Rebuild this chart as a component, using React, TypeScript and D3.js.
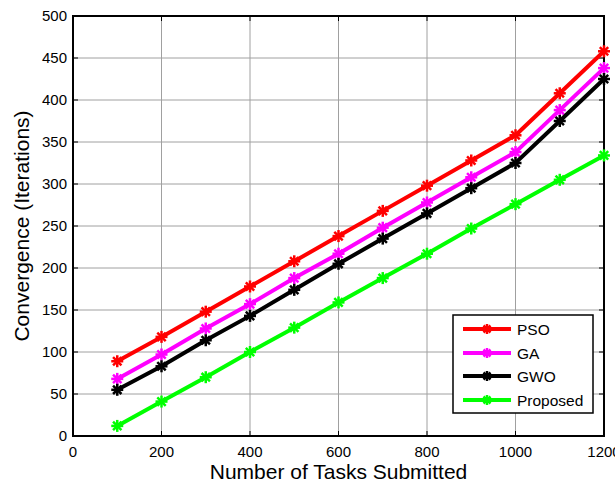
import React, { useEffect, useRef } from 'react';
import * as d3 from 'd3';

const tasks = [100, 200, 300, 400, 500, 600, 700, 800, 900, 1000, 1100, 1200];
const pso = [89, 118, 148, 178, 208, 238, 268, 298, 328, 358, 408, 458];
const ga = [68, 97, 128, 157, 188, 217, 248, 278, 308, 338, 388, 438];
const gwo = [55, 83, 114, 143, 174, 205, 235, 265, 295, 325, 375, 425];
const proposed = [12, 41, 70, 100, 129, 159, 188, 217, 247, 276, 305, 334];

const seriesNames = ['PSO', 'GA', 'GWO', 'Proposed'];
const seriesColors = ['#ff0000', '#ff00ff', '#000000', '#00ff00'];
const xTicks = [0, 200, 400, 600, 800, 1000, 1200];
const yTicks = [0, 50, 100, 150, 200, 250, 300, 350, 400, 450, 500];

const W = 615;
const H = 484;
const m = { left: 73, right: 11, top: 16, bottom: 48 };

const App = () => {
  const ref = useRef<SVGSVGElement>(null);

  useEffect(() => {
    const svg = d3.select(ref.current);
    svg.selectAll('*').remove();

    const x = d3.scaleLinear().domain([0, 1200]).range([m.left, W - m.right]);
    const y = d3.scaleLinear().domain([0, 500]).range([H - m.bottom, m.top]);
    const font = 'Liberation Sans, Arial, sans-serif';

    // grid
    const g = svg.append('g');
    g.selectAll('.gx').data(xTicks).enter().append('line')
      .attr('x1', d => x(d)).attr('x2', d => x(d))
      .attr('y1', y(0)).attr('y2', y(500))
      .attr('stroke', '#a0a0a0').attr('stroke-width', 1);
    g.selectAll('.gy').data(yTicks).enter().append('line')
      .attr('x1', x(0)).attr('x2', x(1200))
      .attr('y1', d => y(d)).attr('y2', d => y(d))
      .attr('stroke', '#a0a0a0').attr('stroke-width', 1);

    // inward ticks on all sides
    const tl = 5;
    xTicks.forEach(t => {
      g.append('line').attr('x1', x(t)).attr('x2', x(t)).attr('y1', y(0)).attr('y2', y(0) - tl).attr('stroke', '#000');
      g.append('line').attr('x1', x(t)).attr('x2', x(t)).attr('y1', y(500)).attr('y2', y(500) + tl).attr('stroke', '#000');
    });
    yTicks.forEach(t => {
      g.append('line').attr('x1', x(0)).attr('x2', x(0) + tl).attr('y1', y(t)).attr('y2', y(t)).attr('stroke', '#000');
      g.append('line').attr('x1', x(1200)).attr('x2', x(1200) - tl).attr('y1', y(t)).attr('y2', y(t)).attr('stroke', '#000');
    });

    // box
    g.append('rect')
      .attr('x', x(0)).attr('y', y(500))
      .attr('width', x(1200) - x(0)).attr('height', y(0) - y(500))
      .attr('fill', 'none').attr('stroke', '#000').attr('stroke-width', 2);

    // tick labels
    g.selectAll('.xl').data(xTicks).enter().append('text')
      .attr('x', d => x(d)).attr('y', y(0) + 21)
      .attr('text-anchor', 'middle')
      .style('font-family', font).style('font-size', '15px')
      .text(d => d);
    g.selectAll('.yl').data(yTicks).enter().append('text')
      .attr('x', x(0) - 6).attr('y', d => y(d) + 5)
      .attr('text-anchor', 'end')
      .style('font-family', font).style('font-size', '15px')
      .text(d => d);

    // axis labels
    svg.append('text')
      .attr('x', (x(0) + x(1200)) / 2).attr('y', 479)
      .attr('text-anchor', 'middle')
      .style('font-family', font).style('font-size', '21px')
      .text('Number of Tasks Submitted');
    svg.append('text')
      .attr('transform', `translate(29, ${(y(0) + y(500)) / 2}) rotate(-90)`)
      .attr('text-anchor', 'middle')
      .style('font-family', font).style('font-size', '21px')
      .text('Convergence (Iterations)');

    const allSeries = [pso, ga, gwo, proposed];
    const line = d3.line<number>().x((d, i) => x(tasks[i])).y(d => y(d));

    const star = (sel: any, cx: number, cy: number, color: string, r = 6) => {
      const pts = [[-r, 0, r, 0], [0, -r, 0, r], [-r * 0.7, -r * 0.7, r * 0.7, r * 0.7], [-r * 0.7, r * 0.7, r * 0.7, -r * 0.7]];
      pts.forEach(p => {
        sel.append('line')
          .attr('x1', cx + p[0]).attr('y1', cy + p[1])
          .attr('x2', cx + p[2]).attr('y2', cy + p[3])
          .attr('stroke', color).attr('stroke-width', 2.5);
      });
    };

    allSeries.forEach((s, k) => {
      svg.append('path')
        .datum(s)
        .attr('d', line)
        .attr('fill', 'none')
        .attr('stroke', seriesColors[k])
        .attr('stroke-width', 4);
      const mg = svg.append('g');
      s.forEach((v, i) => star(mg, x(tasks[i]), y(v), seriesColors[k]));
    });

    // legend
    const lg = svg.append('g');
    lg.append('rect')
      .attr('x', 453).attr('y', 315).attr('width', 140).attr('height', 98)
      .attr('fill', '#fff').attr('stroke', '#000').attr('stroke-width', 1.5);
    const rowY = [329, 353, 376, 400];
    seriesNames.forEach((n, k) => {
      lg.append('line')
        .attr('x1', 463).attr('x2', 511)
        .attr('y1', rowY[k]).attr('y2', rowY[k])
        .attr('stroke', seriesColors[k]).attr('stroke-width', 4);
      star(lg, 487, rowY[k], seriesColors[k], 5);
      lg.append('text')
        .attr('x', 517).attr('y', rowY[k] + 5.5)
        .style('font-family', font).style('font-size', '15.5px')
        .text(n);
    });
  }, []);

  return (
    <svg ref={ref} width={W} height={H} style={{ position: 'absolute', left: 0, top: 0, background: '#fff' }} />
  );
};

export default App;
